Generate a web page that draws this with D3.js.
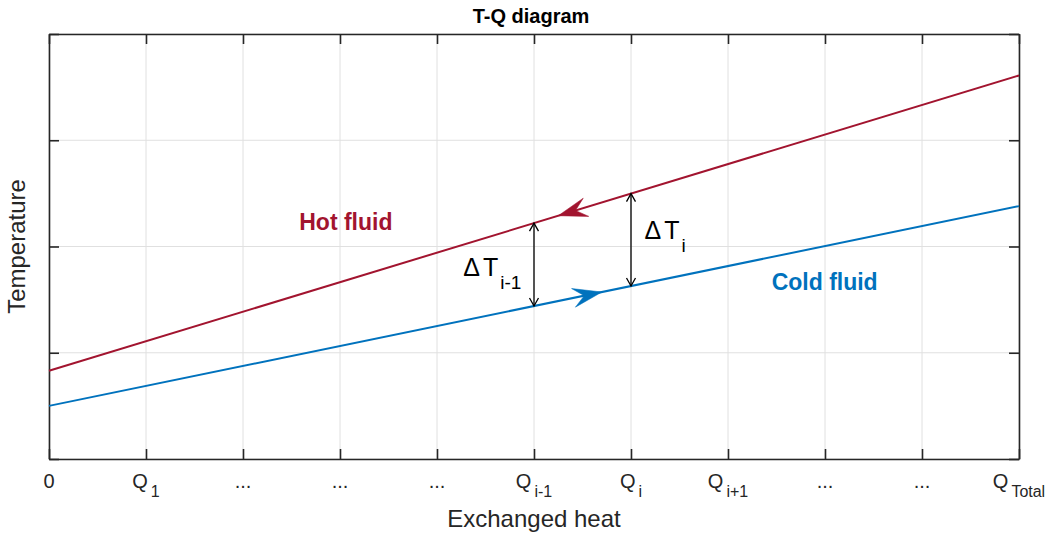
<!DOCTYPE html>
<html>
<head>
<meta charset="utf-8">
<script src="https://cdn.jsdelivr.net/npm/d3@7"></script>
<style>
  html, body { margin: 0; padding: 0; background: #fff; }
  svg { display: block; font-family: "Liberation Sans", Arial, Helvetica, sans-serif; }
</style>
</head>
<body>
<svg id="chart" width="1051" height="536"></svg>
<script>
// ---------------- data ----------------
const xTickValues = [0, 1, 2, 3, 4, 5, 6, 7, 8, 9, 10];
const xTickMain = ["0", "Q", "...", "...", "...", "Q", "Q", "Q", "...", "...", "Q"];
const xTickSub  = ["",  "1", "",    "",    "",    "i-1", "i", "i+1", "",  "",    "Total"];
const yTickValues = [0, 1, 2, 3, 4];

const hotQ = [0, 10];
const hotT = [0.83, 3.61];
const coldQ = [0, 10];
const coldT = [0.50, 2.38];

// flow-direction arrows (tip position on each line, in Q units)
const hotArrowQ = 5.25;
const coldArrowQ = 5.70;

// temperature-difference arrows
const deltaQ = [5, 6];
const deltaSub = ["i-1", "i"];
const deltaLabelQ = [4.27, 6.14];
const deltaLabelT = [1.72, 2.07];

const fluidNames = ["Hot fluid", "Cold fluid"];
const fluidLabelQ = [2.58, 7.45];
const fluidLabelT = [2.155, 1.59];

// ---------------- layout ----------------
const W = 1051, H = 536;
const margin = { left: 49, right: 32, top: 34, bottom: 77 };
const colorHot = "#A2142F", colorCold = "#0072BD", axisColor = "#262626";

const svg = d3.select("#chart");
const x = d3.scaleLinear().domain([0, 10]).range([margin.left, W - margin.right]);
const y = d3.scaleLinear().domain([0, 4]).range([H - margin.bottom, margin.top]);

// grid
const grid = svg.append("g");
grid.selectAll("line.vx").data(xTickValues).join("line")
  .attr("x1", d => x(d)).attr("x2", d => x(d))
  .attr("y1", y(0)).attr("y2", y(4))
  .attr("stroke", "#e0e0e0").attr("stroke-width", 1);
grid.selectAll("line.hy").data(yTickValues).join("line")
  .attr("x1", x(0)).attr("x2", x(10))
  .attr("y1", d => y(d)).attr("y2", d => y(d))
  .attr("stroke", "#e0e0e0").attr("stroke-width", 1);

// axes (ticks inside)
const tickLen = 10;
const xAxisB = d3.axisBottom(x).tickValues(xTickValues).tickSizeInner(-tickLen).tickSizeOuter(0).tickFormat("");
const xAxisT = d3.axisTop(x).tickValues(xTickValues).tickSizeInner(-tickLen).tickSizeOuter(0).tickFormat("");
const yAxisL = d3.axisLeft(y).tickValues(yTickValues).tickSizeInner(-tickLen).tickSizeOuter(0).tickFormat("");
const yAxisR = d3.axisRight(y).tickValues(yTickValues).tickSizeInner(-tickLen).tickSizeOuter(0).tickFormat("");

function styleAxis(g) {
  g.selectAll("path").attr("stroke", axisColor).attr("stroke-width", 1.6);
  g.selectAll("line").attr("stroke", axisColor).attr("stroke-width", 1.6);
}
svg.append("g").attr("transform", `translate(0,${y(0)})`).call(xAxisB).call(styleAxis);
svg.append("g").attr("transform", `translate(0,${y(4)})`).call(xAxisT).call(styleAxis);
svg.append("g").attr("transform", `translate(${x(0)},0)`).call(yAxisL).call(styleAxis);
svg.append("g").attr("transform", `translate(${x(10)},0)`).call(yAxisR).call(styleAxis);

// x tick labels with subscripts
const tl = svg.append("g").attr("fill", axisColor).attr("font-size", 20);
xTickValues.forEach((v, i) => {
  const t = tl.append("text").attr("x", x(v)).attr("y", 488).attr("text-anchor", "middle");
  t.append("tspan").text(xTickMain[i]);
  if (xTickSub[i]) {
    t.append("tspan").attr("dx", 3).attr("dy", 9).attr("font-size", 16).text(xTickSub[i]);
  }
});

// axis labels and title
svg.append("text").attr("x", (x(0) + x(10)) / 2).attr("y", 527)
  .attr("text-anchor", "middle").attr("font-size", 24).attr("fill", axisColor).text("Exchanged heat");
svg.append("text").attr("transform", `translate(25,${(y(0) + y(4)) / 2}) rotate(-90)`)
  .attr("text-anchor", "middle").attr("font-size", 24).attr("fill", axisColor).text("Temperature");
svg.append("text").attr("x", (x(0) + x(10)) / 2 - 3).attr("y", 23)
  .attr("text-anchor", "middle").attr("font-size", 20).attr("font-weight", "bold").attr("fill", "#000").text("T-Q diagram");

// lines
const line = d3.line().x(d => x(d[0])).y(d => y(d[1]));
const hotPts = hotQ.map((q, i) => [q, hotT[i]]);
const coldPts = coldQ.map((q, i) => [q, coldT[i]]);
svg.append("path").datum(hotPts).attr("d", line).attr("fill", "none").attr("stroke", colorHot).attr("stroke-width", 2);
svg.append("path").datum(coldPts).attr("d", line).attr("fill", "none").attr("stroke", colorCold).attr("stroke-width", 2);

function lineAt(qArr, tArr, q) {
  const f = (q - qArr[0]) / (qArr[1] - qArr[0]);
  return tArr[0] + f * (tArr[1] - tArr[0]);
}

// filled "vback2" arrowhead
function bigArrow(qArr, tArr, qTip, dir, color) {
  const tip = [x(qTip), y(lineAt(qArr, tArr, qTip))];
  const other = [x(qTip - dir), y(lineAt(qArr, tArr, qTip - dir))];
  const ang = Math.atan2(tip[1] - other[1], tip[0] - other[0]);
  const L = 29, Wd = 19, notch = 0.62;
  const pts = [[0, 0], [-L, -Wd / 2], [-L * notch, 0], [-L, Wd / 2]];
  svg.append("path")
    .attr("d", "M" + pts.map(p => p.join(",")).join("L") + "Z")
    .attr("transform", `translate(${tip[0]},${tip[1]}) rotate(${ang * 180 / Math.PI})`)
    .attr("fill", color).attr("stroke", color).attr("stroke-width", 0.5);
}
bigArrow(hotQ, hotT, hotArrowQ, -1, colorHot);
bigArrow(coldQ, coldT, coldArrowQ, 1, colorCold);

// delta T double arrows
deltaQ.forEach((q, i) => {
  const xp = x(q);
  const y1 = y(lineAt(hotQ, hotT, q));
  const y2 = y(lineAt(coldQ, coldT, q));
  const g = svg.append("g").attr("stroke", "#000").attr("stroke-width", 1.3).attr("fill", "none");
  g.append("line").attr("x1", xp).attr("x2", xp).attr("y1", y1).attr("y2", y2);
  const a = 4.5, b = 8;
  g.append("path").attr("d", `M${xp - a},${y1 + b}L${xp},${y1}L${xp + a},${y1 + b}`);
  g.append("path").attr("d", `M${xp - a},${y2 - b}L${xp},${y2}L${xp + a},${y2 - b}`);

  const t = svg.append("text").attr("x", x(deltaLabelQ[i])).attr("y", y(deltaLabelT[i]))
    .attr("font-size", 25).attr("fill", "#000");
  t.append("tspan").text("\u0394");
  t.append("tspan").attr("dx", 3).text("T");
  t.append("tspan").attr("dx", 2).attr("dy", 13).attr("font-size", 19).text(deltaSub[i]);
});

// fluid labels
const fluidColors = [colorHot, colorCold];
fluidNames.forEach((n, i) => {
  svg.append("text").attr("x", x(fluidLabelQ[i])).attr("y", y(fluidLabelT[i]))
    .attr("font-size", 23).attr("font-weight", "bold").attr("fill", fluidColors[i]).text(n);
});
</script>
</body>
</html>
